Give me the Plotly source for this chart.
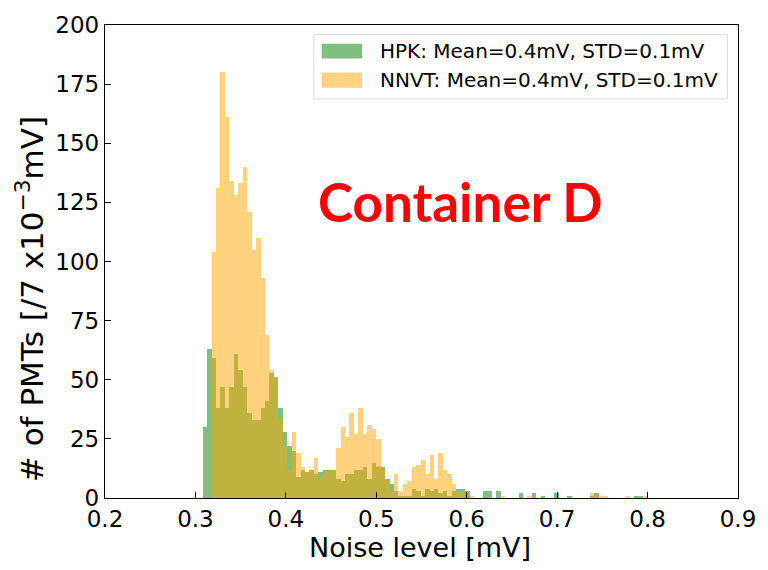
import numpy as np
import plotly.graph_objects as go

# ---- data (counts per bin) ----
bin_start = 0.308
bin_width = 0.00492
n_bins = 100

hpk_counts = [30, 63, 59, 38, 47, 38, 47, 61, 54, 47,
              36, 33, 33, 38, 41, 53, 51, 38, 28, 22,
              20, 9, 12, 11, 12, 10, 11, 12, 12, 12,
              8, 7, 10, 10, 12, 12, 13, 8, 15, 13,
              13, 8, 6, 3, 1, 1, 1, 4, 3, 1,
              4, 3, 4, 2, 3, 1, 3, 4, 4, 3,
              0, 0, 0, 3, 3, 0, 3, 0, 0, 0,
              0, 2, 0, 0, 2, 0, 1, 0, 0, 2,
              0, 0, 1, 0, 0, 0, 0, 1, 2, 0,
              0, 0, 0, 0, 0, 0, 0, 1, 1, 0]

nnvt_counts = [0, 0, 104, 131, 180, 161, 134, 128, 133, 140,
               121, 105, 110, 93, 69, 54, 51, 33, 22, 12,
               28, 19, 13, 11, 12, 17, 9, 10, 11, 12,
               21, 30, 26, 36, 27, 38, 27, 31, 29, 25,
               12, 8, 3, 10, 3, 6, 7, 13, 14, 16,
               10, 18, 8, 19, 12, 10, 6, 3, 3, 0,
               1, 0, 0, 0, 0, 0, 0, 1, 0, 0,
               0, 0, 0, 1, 1, 0, 0, 0, 0, 0,
               0, 0, 0, 0, 0, 0, 0, 2, 1, 1,
               1, 0, 0, 0, 0, 1, 0, 0, 0, 1]

series_names = ["HPK: Mean=0.4mV, STD=0.1mV", "NNVT: Mean=0.4mV, STD=0.1mV"]
x_ticks = [0.2, 0.3, 0.4, 0.5, 0.6, 0.7, 0.8, 0.9]
y_ticks = [0, 25, 50, 75, 100, 125, 150, 175, 200]

edges = bin_start + bin_width * np.arange(n_bins + 1)
centers = (edges[:-1] + edges[1:]) / 2

GREEN = "rgba(0,128,0,0.5)"
ORANGE = "rgba(255,165,0,0.5)"
FONT = "DejaVu Sans"

fig = go.Figure()
fig.add_trace(go.Bar(x=centers, y=hpk_counts, width=bin_width, name=series_names[0],
                     marker=dict(color=GREEN, line=dict(width=0))))
fig.add_trace(go.Bar(x=centers, y=nnvt_counts, width=bin_width, name=series_names[1],
                     marker=dict(color=ORANGE, line=dict(width=0))))

axis_common = dict(showline=True, mirror=True, linecolor="black", linewidth=1.3,
                   ticks="inside", ticklen=6, tickwidth=1.3, tickcolor="black",
                   showgrid=False, zeroline=False, ticklabeloverflow="allow",
                   tickfont=dict(family=FONT, size=23, color="black"))

fig.update_layout(
    width=768, height=570,
    margin=dict(l=105, r=27, t=23, b=72),
    paper_bgcolor="white", plot_bgcolor="white",
    barmode="overlay", bargap=0, showlegend=False,
    xaxis=dict(range=[0.2, 0.9], tickvals=x_ticks,
               ticktext=[f"{v:.1f}" for v in x_ticks], **axis_common),
    yaxis=dict(range=[0, 200], tickvals=y_ticks,
               ticktext=[str(v) for v in y_ticks], **axis_common),
)

# manual legend (matplotlib style)
shapes = [
    dict(type="rect", xref="paper", yref="paper", x0=0.330, x1=0.983, y0=0.8436, y1=0.9796,
         line=dict(color="#d9d9d9", width=1), fillcolor="rgba(255,255,255,0.8)", layer="above"),
    dict(type="rect", xref="paper", yref="paper", x0=0.3423, x1=0.4061, y0=0.929, y1=0.9606,
         line=dict(width=0), fillcolor=GREEN, layer="above"),
    dict(type="rect", xref="paper", yref="paper", x0=0.3423, x1=0.4061, y0=0.8674, y1=0.8996,
         line=dict(width=0), fillcolor=ORANGE, layer="above"),
]
fig.update_layout(shapes=shapes)

annotations = [
    dict(text=series_names[0], xref="paper", yref="paper", x=0.4313, y=0.9446,
         xanchor="left", yanchor="middle", showarrow=False,
         font=dict(family=FONT, size=20, color="black")),
    dict(text=series_names[1], xref="paper", yref="paper", x=0.4313, y=0.8836,
         xanchor="left", yanchor="middle", showarrow=False,
         font=dict(family=FONT, size=20, color="black")),
    dict(text="Noise level [mV]", xref="paper", yref="paper", x=0.498, y=-0.105,
         xanchor="center", yanchor="middle", showarrow=False,
         font=dict(family=FONT, size=27, color="black")),
    dict(text="# of PMTs [/7 x10<sup>−3</sup>mV]", xref="paper", yref="paper",
         x=-0.118, y=0.421, xanchor="center", yanchor="middle", textangle=-90,
         showarrow=False, font=dict(family=FONT, size=31, color="black")),
    dict(text="<b>Container D</b>", xref="paper", yref="paper", x=0.561, y=0.627,
         xanchor="center", yanchor="middle", showarrow=False,
         font=dict(family="Lato", size=53, color="#ff0000")),
]
fig.update_layout(annotations=annotations)

fig.write_html("out.html")
